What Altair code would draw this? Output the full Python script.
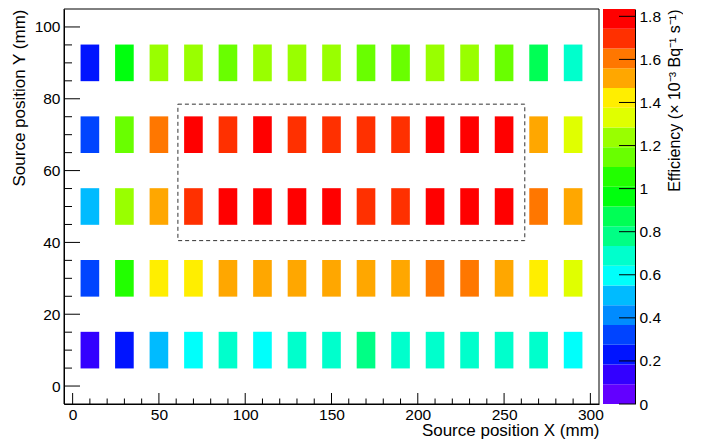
import altair as alt
import pandas as pd

# ---------------- data ----------------
X_CENTERS = [10, 30, 50, 70, 90, 110, 130, 150, 170, 190, 210, 230, 250, 270, 290]
Y_CENTERS = [90, 70, 50, 30, 10]

EFF_Y90 = [0.22, 0.97, 1.24, 1.25, 1.16, 1.23, 1.26, 1.22, 1.15, 1.14, 1.24, 1.27, 1.17, 0.88, 0.69]
EFF_Y70 = [0.33, 1.15, 1.60, 1.80, 1.70, 1.79, 1.69, 1.71, 1.72, 1.70, 1.81, 1.83, 1.79, 1.52, 1.33]
EFF_Y50 = [0.50, 1.24, 1.51, 1.69, 1.78, 1.80, 1.82, 1.79, 1.70, 1.71, 1.80, 1.81, 1.78, 1.61, 1.50]
EFF_Y30 = [0.32, 1.06, 1.42, 1.43, 1.50, 1.52, 1.51, 1.53, 1.52, 1.50, 1.62, 1.61, 1.52, 1.43, 1.32]
EFF_Y10 = [0.14, 0.23, 0.51, 0.60, 0.69, 0.59, 0.68, 0.70, 0.78, 0.69, 0.67, 0.70, 0.68, 0.69, 0.60]
ROWS = [EFF_Y90, EFF_Y70, EFF_Y50, EFF_Y30, EFF_Y10]

ZMAX = 1.834
N_CONTOURS = 20

# dashed region of interest (mm)
REGION = {"x0": 61, "x1": 262, "y0": 40.5, "y1": 78.5}

# axis ticks / labels
X_MAJOR = [0, 50, 100, 150, 200, 250, 300]
X_MINOR = [v for v in range(0, 301, 10) if v % 50]
Y_MAJOR = [0, 20, 40, 60, 80, 100]
Y_MINOR = [v for v in range(0, 101, 5) if v % 20]
Z_TICKS = [0, 0.2, 0.4, 0.6, 0.8, 1.0, 1.2, 1.4, 1.6, 1.8]

# ROOT "pretty" palette, 20 contour levels (violet -> red)
PALETTE = ["#6300FF", "#3300FF", "#0014FF", "#0044FF", "#008BFF",
           "#00BBFF", "#00FFFB", "#00FFCC", "#00FF85", "#00FF55",
           "#00FF0E", "#22FF00", "#69FF00", "#99FF00", "#E0FF00",
           "#FFEE00", "#FFA700", "#FF7700", "#FF3000", "#FF0000"]

FONT = "Liberation Sans"
W, H = 535, 395
CBW = 32

df = pd.DataFrame([{"x": x, "y": y, "eff": v}
                   for y, row in zip(Y_CENTERS, ROWS)
                   for x, v in zip(X_CENTERS, row)])

xs = alt.Scale(domain=[-5, 305], nice=False, zero=False)
ys = alt.Scale(domain=[-5, 105], nice=False, zero=False)
zs = alt.Scale(domain=[0, ZMAX], nice=False, zero=False)
zcol = alt.Scale(type="quantize", domain=[0, ZMAX], range=PALETTE, nice=False)

X_AXIS = alt.Axis(values=X_MAJOR, labelPadding=3, title="Source position X (mm)",
                  titleAnchor="end", titleAlign="right", titlePadding=0)
Y_AXIS = alt.Axis(values=Y_MAJOR, labelPadding=4, title="Source position Y (mm)",
                  titleAnchor="end", titleAlign="right", titlePadding=6)
Z_AXIS = alt.Axis(orient="right", values=Z_TICKS, format=".1~f", labelPadding=4,
                  title="Efficiency (× 10⁻³ Bq⁻¹ s⁻¹)", titleAngle=270, titleFontSize=16,
                  titleAnchor="end", titleAlign="right", titleBaseline="top", titlePadding=6)

cells = alt.Chart(df).transform_calculate(
    x0="datum.x - 5.4", x1="datum.x + 5.4", y0="datum.y - 5.1", y1="datum.y + 5.1"
).mark_rect().encode(
    x=alt.X("x0:Q", scale=xs, axis=X_AXIS),
    x2="x1:Q",
    y=alt.Y("y0:Q", scale=ys, axis=Y_AXIS),
    y2="y1:Q",
    color=alt.Color("eff:Q", scale=zcol, legend=None),
)

box = alt.Chart(pd.DataFrame([REGION])).mark_rect(
    filled=False, stroke="#333333", strokeWidth=1, strokeDash=[4, 3]
).encode(
    x=alt.X("x0:Q", scale=xs, axis=X_AXIS), x2="x1:Q",
    y=alt.Y("y0:Q", scale=ys, axis=Y_AXIS), y2="y1:Q",
)

frame = alt.Chart(pd.DataFrame({"f": [0]})).mark_rect(
    filled=False, stroke="black", strokeWidth=1
).encode(x=alt.value(0), x2=alt.value(W), y=alt.value(0), y2=alt.value(H))


def xticks(vals, length):
    return alt.Chart(pd.DataFrame({"v": vals})).mark_rule(color="black", strokeWidth=1).encode(
        x=alt.X("v:Q", scale=xs, axis=X_AXIS), y=alt.value(H), y2=alt.value(H - length))


def yticks(vals, length):
    return alt.Chart(pd.DataFrame({"v": vals})).mark_rule(color="black", strokeWidth=1).encode(
        y=alt.Y("v:Q", scale=ys, axis=Y_AXIS), x=alt.value(0), x2=alt.value(length))


main = alt.layer(
    cells, box, frame,
    xticks(X_MAJOR, 11), xticks(X_MINOR, 5.5),
    yticks(Y_MAJOR, 16), yticks(Y_MINOR, 8),
).properties(width=W, height=H)

bands = pd.DataFrame({
    "lo": [ZMAX * i / N_CONTOURS for i in range(N_CONTOURS)],
    "hi": [ZMAX * (i + 1) / N_CONTOURS for i in range(N_CONTOURS)],
})

cb_rects = alt.Chart(bands).transform_calculate(
    mid="(datum.lo + datum.hi) / 2"
).mark_rect().encode(
    x=alt.value(0), x2=alt.value(CBW),
    y=alt.Y("lo:Q", scale=zs, axis=Z_AXIS),
    y2="hi:Q",
    color=alt.Color("mid:Q", scale=zcol, legend=None),
)

cb_ticks = alt.Chart(pd.DataFrame({"v": Z_TICKS})).mark_rule(color="black", strokeWidth=1).encode(
    y=alt.Y("v:Q", scale=zs, axis=Z_AXIS), x=alt.value(CBW - 16), x2=alt.value(CBW))

cbar = alt.layer(cb_rects, cb_ticks).properties(width=CBW, height=H)

chart = alt.hconcat(main, cbar, spacing=4, bounds="flush").properties(
    padding={"left": 2, "top": 0, "right": 0, "bottom": 0}
).configure(font=FONT).configure_view(stroke=None).configure_axis(
    labelFont=FONT, titleFont=FONT, labelFontSize=15.5, titleFontSize=17,
    titleFontWeight="normal", labelColor="black", titleColor="black",
    domainColor="black", domainWidth=1, ticks=False, grid=False, labelFlush=False,
)

chart.save("out.html", embed_options={"renderer": "svg", "actions": False})
